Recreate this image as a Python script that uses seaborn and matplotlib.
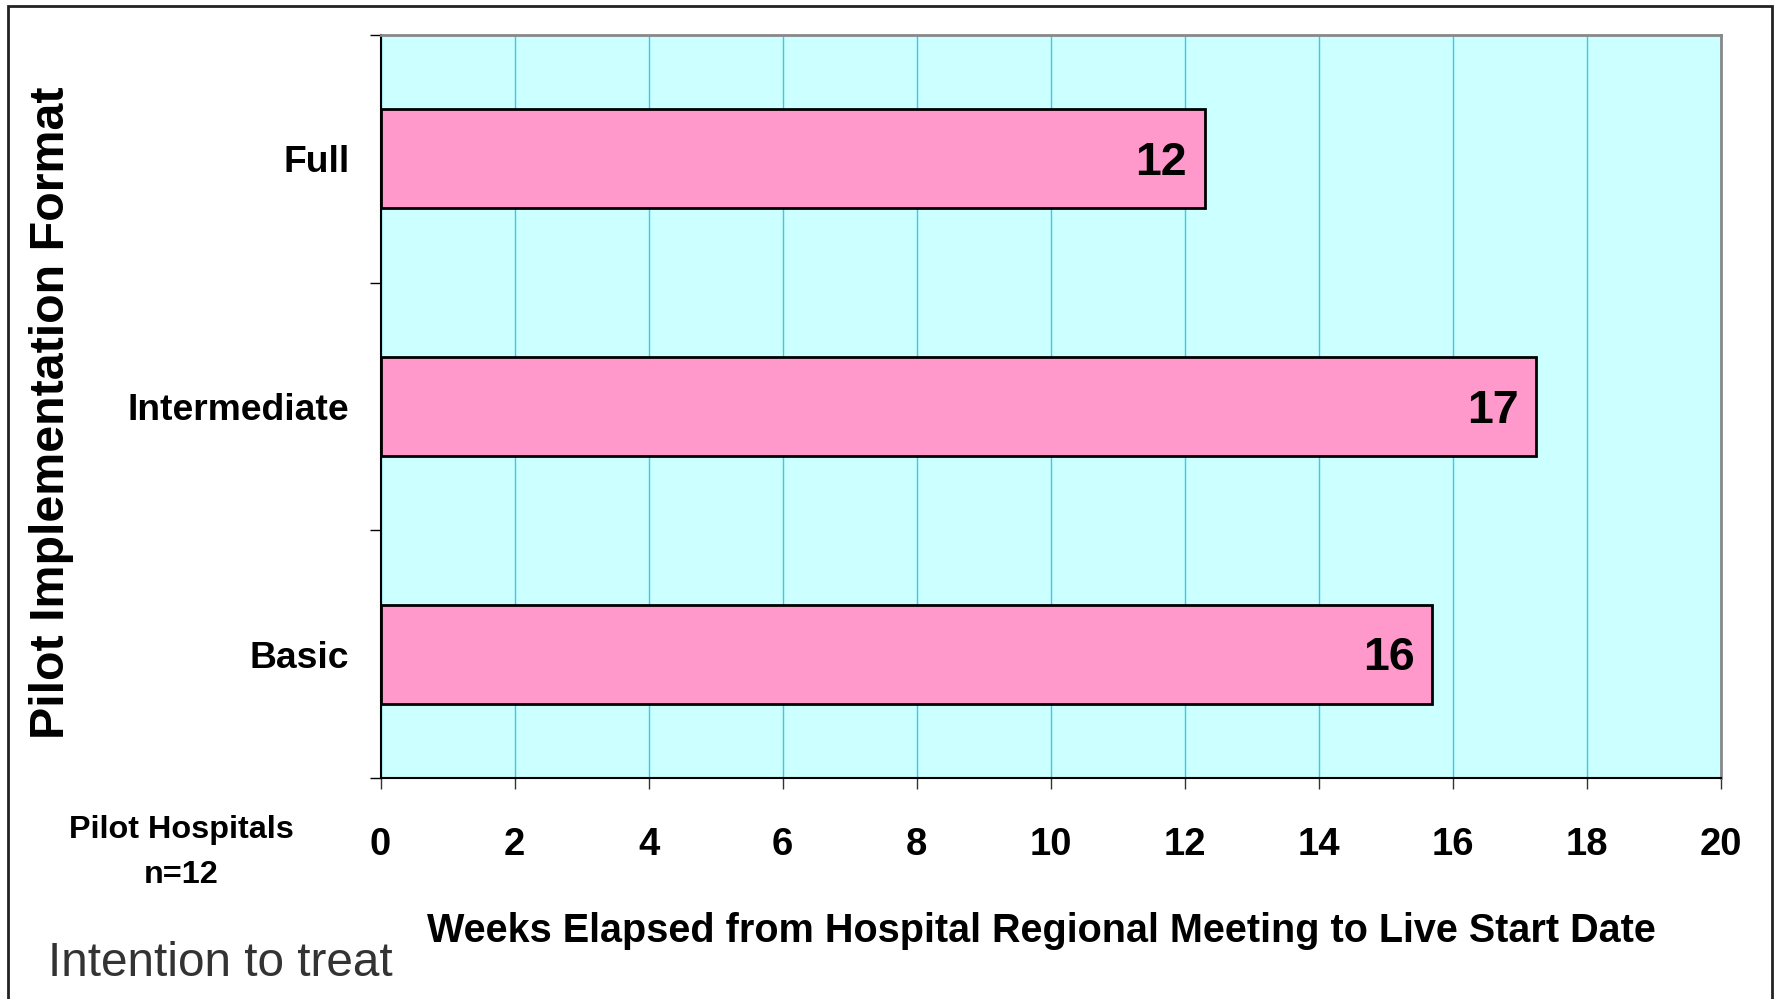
import matplotlib
matplotlib.use("Agg")
import matplotlib.pyplot as plt
import seaborn as sns
import pandas as pd
from matplotlib.patches import Rectangle

# values
formats = ["Full", "Intermediate", "Basic"]
weeks = [12.3, 17.25, 15.7]
bar_labels = ["12", "17", "16"]
x_ticks = [0, 2, 4, 6, 8, 10, 12, 14, 16, 18, 20]

sns.set_theme(style="white")
plt.rcParams["font.family"] = ["Liberation Sans", "DejaVu Sans"]
plt.rcParams["text.color"] = "black"

df = pd.DataFrame({"format": formats, "weeks": weeks})

fig = plt.figure(figsize=(17.76, 9.99), dpi=100)
ax = fig.add_axes([0.2143, 0.2212, 0.7545, 0.7438])
ax.set_facecolor("#CCFFFF")

sns.barplot(data=df, x="weeks", y="format", order=formats, orient="h",
            color="#FF99CC", saturation=1, edgecolor="black", linewidth=2,
            width=0.4, ax=ax, zorder=3)

ax.set_xlim(0, 20)
ax.set_ylim(2.5, -0.5)
ax.set_xticks(x_ticks)
ax.set_xticklabels([str(t) for t in x_ticks], fontsize=27.5, fontweight="bold")
ax.set_yticks(range(len(formats)))
ax.set_yticklabels(formats, fontsize=26.8, fontweight="bold")
ax.set_yticks([-0.5, 0.5, 1.5, 2.5], minor=True)
ax.tick_params(axis="y", which="major", length=0, pad=22.5, labelcolor="black")
ax.tick_params(axis="y", which="minor", left=True, length=8, width=1, color="black")
ax.tick_params(axis="x", which="major", bottom=True, length=8, width=1,
               color="#333333", pad=27.5, labelcolor="black")
ax.set_xlabel("")
ax.set_ylabel("")

ax.xaxis.grid(True, color="#33CCEE", linewidth=1)
ax.yaxis.grid(False)
ax.set_axisbelow(True)

for side in ["left", "bottom"]:
    ax.spines[side].set_color("black")
    ax.spines[side].set_linewidth(1.5)
for side in ["top", "right"]:
    ax.spines[side].set_color("#888888")
    ax.spines[side].set_linewidth(2)

# value labels inside bar ends
for i, (w, lab) in enumerate(zip(weeks, bar_labels)):
    ax.annotate(lab, (w, i), xytext=(-13, -3), textcoords="offset points",
                ha="right", va="center", fontsize=33.5, fontweight="bold",
                color="black", zorder=4)

fig.text(52 / 1776, 1 - 413 / 999, "Pilot Implementation Format", rotation=90,
         ha="center", va="center", fontsize=34.8, fontweight="bold")
fig.text(1041 / 1776, 1 - 931 / 999,
         "Weeks Elapsed from Hospital Regional Meeting to Live Start Date",
         ha="center", va="center", fontsize=28.5, fontweight="bold")
fig.text(181 / 1776, 1 - 830 / 999, "Pilot Hospitals", ha="center", va="center",
         fontsize=23.3, fontweight="bold")
fig.text(181 / 1776, 1 - 875 / 999, "n=12", ha="center", va="center",
         fontsize=23.3, fontweight="bold")
fig.text(48 / 1776, 1 - 963 / 999, "Intention to treat", ha="left", va="center",
         fontsize=34.4, color="#333333")

# outer frame
fig.patches.append(Rectangle((8 / 1776, -0.05), (1772 - 8) / 1776, 1.05 - 6 / 999,
                             transform=fig.transFigure, fill=False,
                             edgecolor="#222222", linewidth=2))

fig.savefig("out.png", dpi=100)
plt.close(fig)
